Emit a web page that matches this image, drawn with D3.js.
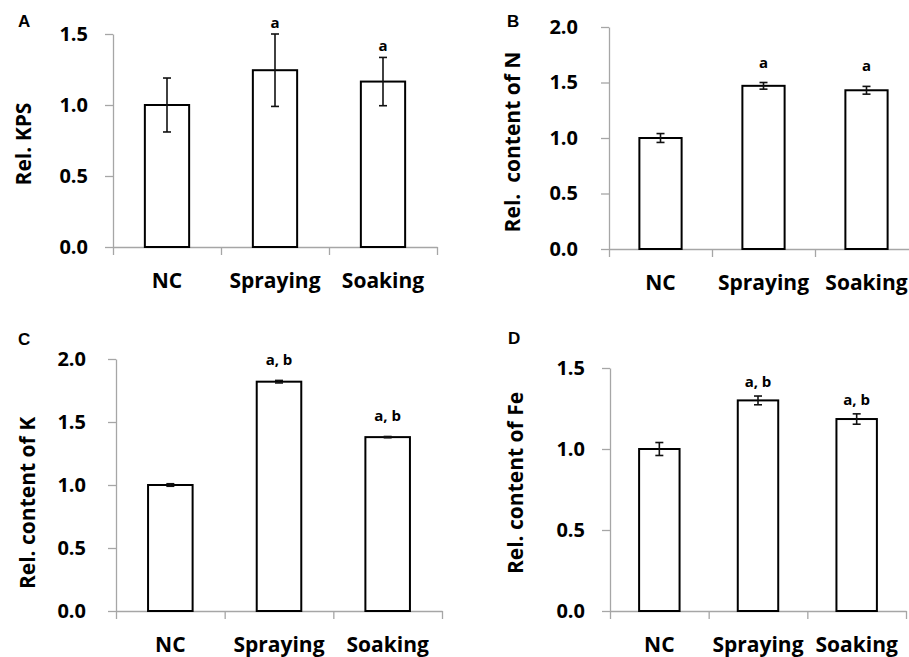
<!DOCTYPE html>
<html>
<head>
<meta charset="utf-8">
<script src="https://cdn.jsdelivr.net/npm/d3@7/dist/d3.min.js"></script>
<style>
  body { margin: 0; background: #fff; }
  text { font-family: "Open Sans", sans-serif; font-weight: 700; fill: #000; }
</style>
</head>
<body>
<div id="chart"></div>
<script>
// Datos
const CATEGORIES = ["NC", "Spraying", "Soaking"];

const KPS = [1.0, 1.245, 1.165];
const KPS_ERR = [0.19, 0.255, 0.17];
const KPS_SIG = ["", "a", "a"];

const N_CONTENT = [1.0, 1.47, 1.43];
const N_ERR = [0.04, 0.03, 0.035];
const N_SIG = ["", "a", "a"];

const K_CONTENT = [1.0, 1.82, 1.38];
const K_ERR = [0.01, 0.01, 0.005];
const K_SIG = ["", "a, b", "a, b"];

const FE_CONTENT = [1.0, 1.3, 1.185];
const FE_ERR = [0.04, 0.027, 0.032];
const FE_SIG = ["", "a, b", "a, b"];

const Y_TICKS_15 = [0, 0.5, 1.0, 1.5];
const Y_TICKS_20 = [0, 0.5, 1.0, 1.5, 2.0];

const WIDTH = 909;
const HEIGHT = 657;

const svg = d3.select("#chart").append("svg")
  .attr("width", WIDTH)
  .attr("height", HEIGHT);

// cada panel: datos + donde va en la pagina
const panels = [
  { letter: "A", title: "Rel. KPS", values: KPS, errs: KPS_ERR, sig: KPS_SIG, ticks: Y_TICKS_15,
    x0: 113, x1: 437, y0: 247, y1: 34, letterX: 18, letterY: 27, titleX: 23, titleY: 144, tickPad: 17, sigGap: 6 },
  { letter: "B", title: "Rel.  content of N", values: N_CONTENT, errs: N_ERR, sig: N_SIG, ticks: Y_TICKS_20,
    x0: 609, x1: 918, y0: 249, y1: 27, letterX: 507, letterY: 27, titleX: 512, titleY: 142, tickPad: 23, sigGap: 15 },
  { letter: "C", title: "Rel. content of K", values: K_CONTENT, errs: K_ERR, sig: K_SIG, ticks: Y_TICKS_20,
    x0: 116, x1: 442, y0: 611, y1: 359, letterX: 18, letterY: 345, titleX: 27, titleY: 503, tickPad: 22, sigGap: 15 },
  { letter: "D", title: "Rel. content of Fe", values: FE_CONTENT, errs: FE_ERR, sig: FE_SIG, ticks: Y_TICKS_15,
    x0: 610, x1: 906, y0: 611, y1: 368, letterX: 508, letterY: 344, titleX: 515, titleY: 483, tickPad: 17, sigGap: 9 },
];

panels.forEach(drawPanel);

function drawPanel(p) {
  const g = svg.append("g");
  const data = CATEGORIES.map((c, i) => ({ cat: c, value: p.values[i], err: p.errs[i], sig: p.sig[i] }));

  const yScale = d3.scaleLinear()
    .domain([0, d3.max(p.ticks)])
    .range([p.y0, p.y1]);

  const xScale = d3.scaleBand()
    .domain(CATEGORIES)
    .range([p.x0, p.x1])
    .padding(0);

  // limites de categoria (ticks estilo excel)
  const edgeScale = d3.scaleLinear().domain([0, CATEGORIES.length]).range([p.x0, p.x1]);

  const yAxis = d3.axisLeft(yScale)
    .tickValues(p.ticks)
    .tickFormat(d3.format(".1f"))
    .tickSize(8)
    .tickSizeOuter(0)
    .tickPadding(p.tickPad);

  const yG = g.append("g").attr("transform", `translate(${p.x0},0)`).call(yAxis);
  yG.select(".domain").attr("stroke", "#a6a6a6").attr("stroke-width", 1.3);
  yG.selectAll(".tick line").attr("stroke", "#a6a6a6").attr("stroke-width", 1.3);
  yG.selectAll(".tick text")
    .attr("font-family", "Open Sans")
    .attr("font-weight", 700)
    .attr("font-size", 20)
    .attr("fill", "#000");

  const xAxis = d3.axisBottom(edgeScale)
    .tickValues(d3.range(CATEGORIES.length + 1))
    .tickFormat("")
    .tickSize(8)
    .tickSizeOuter(0);

  const xG = g.append("g").attr("transform", `translate(0,${p.y0})`).call(xAxis);
  xG.select(".domain").attr("stroke", "#a6a6a6").attr("stroke-width", 1.3);
  xG.selectAll(".tick line").attr("stroke", "#a6a6a6").attr("stroke-width", 1.3);

  // etiquetas de categoria
  g.selectAll(".cat")
    .data(data)
    .join("text")
    .attr("class", "cat")
    .attr("x", d => xScale(d.cat) + xScale.bandwidth() / 2)
    .attr("y", p.y0 + 41)
    .attr("text-anchor", "middle")
    .attr("font-size", 21)
    .text(d => d.cat);

  // barras
  const barW = xScale.bandwidth() * 0.41;
  g.selectAll(".bar")
    .data(data)
    .join("rect")
    .attr("class", "bar")
    .attr("x", d => xScale(d.cat) + (xScale.bandwidth() - barW) / 2)
    .attr("y", d => yScale(d.value))
    .attr("width", barW)
    .attr("height", d => p.y0 - yScale(d.value))
    .attr("fill", "#fff")
    .attr("stroke", "#000")
    .attr("stroke-width", 2);

  // barras de error
  const cx = d => xScale(d.cat) + xScale.bandwidth() / 2;
  const errs = g.selectAll(".err")
    .data(data)
    .join("g")
    .attr("class", "err")
    .attr("stroke", "#111")
    .attr("stroke-width", 1.6);

  errs.append("line")
    .attr("x1", cx).attr("x2", cx)
    .attr("y1", d => yScale(d.value + d.err))
    .attr("y2", d => yScale(d.value - d.err));
  errs.append("line")
    .attr("x1", d => cx(d) - 4).attr("x2", d => cx(d) + 4)
    .attr("y1", d => yScale(d.value + d.err))
    .attr("y2", d => yScale(d.value + d.err));
  errs.append("line")
    .attr("x1", d => cx(d) - 4).attr("x2", d => cx(d) + 4)
    .attr("y1", d => yScale(d.value - d.err))
    .attr("y2", d => yScale(d.value - d.err));

  // letras de significancia
  g.selectAll(".sig")
    .data(data.filter(d => d.sig))
    .join("text")
    .attr("class", "sig")
    .attr("x", cx)
    .attr("y", d => yScale(d.value + d.err) - p.sigGap)
    .attr("text-anchor", "middle")
    .attr("font-size", 15)
    .text(d => d.sig);

  // titulo eje y
  g.append("text")
    .attr("transform", `translate(${p.titleX},${p.titleY}) rotate(-90)`)
    .attr("text-anchor", "middle")
    .attr("dominant-baseline", "central")
    .attr("font-size", 21)
    .style("white-space", "pre")
    .text(p.title);

  // letra del panel
  g.append("text")
    .attr("x", p.letterX)
    .attr("y", p.letterY)
    .attr("font-size", 17)
    .style("font-family", "'Liberation Sans', Arial, sans-serif")
    .text(p.letter);
}
</script>
</body>
</html>
